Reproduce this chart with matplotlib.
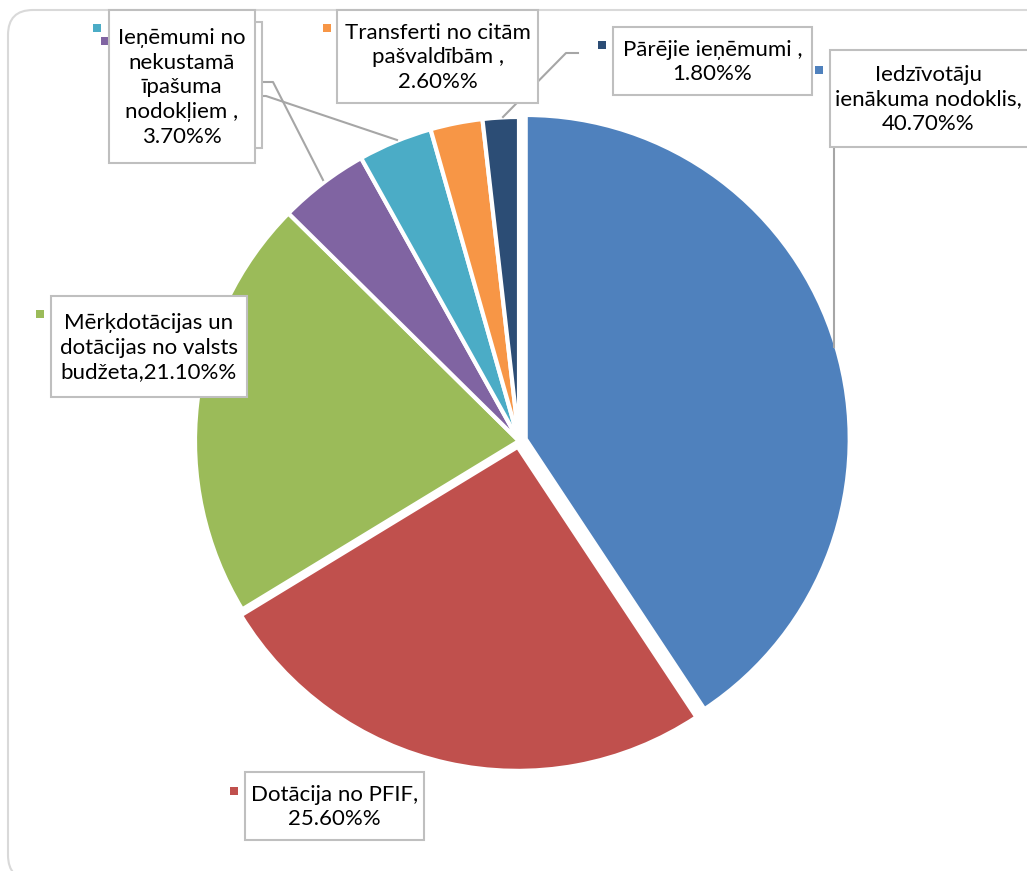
import matplotlib.pyplot as plt
from matplotlib.patches import Rectangle, FancyBboxPatch

# dati
kategorijas = ["Iedzīvotāju ienākuma nodoklis", "Dotācija no PFIF",
               "Mērķdotācijas un dotācijas no valsts budžeta", "Citi nodokļi",
               "Ieņēmumi no nekustamā īpašuma nodokļiem",
               "Transferti no citām pašvaldībām", "Pārējie ieņēmumi"]
vertibas = [40.7, 25.6, 21.1, 4.5, 3.7, 2.6, 1.8]
krasas = ["#4F81BD", "#C0504D", "#9BBB59", "#8064A2", "#4BACC6", "#F79646", "#2C4D75"]
uzraksti = ["Iedzīvotāju\nienākuma nodoklis,\n40.70%%",
            "Dotācija no PFIF,\n25.60%%",
            "Mērķdotācijas un\ndotācijas no valsts\nbudžeta,21.10%%",
            "",
            "Ieņēmumi no\nnekustamā\nīpašuma\nnodokļiem ,\n3.70%%",
            "Transferti no citām\npašvaldībām ,\n2.60%%",
            "Pārējie ieņēmumi ,\n1.80%%"]

W, H = 1027, 871
def py(y):
    return H - y

plt.rcParams['font.family'] = ['Lato', 'DejaVu Sans']

fig = plt.figure(figsize=(W / 100, H / 100), dpi=100)
ax = fig.add_axes([0, 0, 1, 1])

ax.pie(vertibas, colors=krasas, startangle=90, counterclock=False,
       center=(519, py(441)), radius=324, explode=[7, 6, 0, 0, 0, 0, 0],
       wedgeprops=dict(edgecolor="white", linewidth=3), frame=False)
ax.set_xlim(0, W)
ax.set_ylim(0, H)
ax.set_aspect('equal')
ax.axis('off')

# ramis
ax.add_patch(FancyBboxPatch((8 + 25, py(880) + 25), 1100, 870 - 50,
                            boxstyle="round,pad=25", fc="none", ec="#D9D9D9", lw=1.5, zorder=0))

# vilktās līnijas
linijas = [
    [(834, 147), (834, 347)],
    [(578, 53), (566, 53), (503, 117)],
    [(262, 82), (273, 82), (323, 180)],
    [(262, 96), (266, 96), (397, 140)],
]
for l in linijas:
    ax.plot([p[0] for p in l], [py(p[1]) for p in l], color="#A6A6A6", lw=1.5, zorder=3)

# kastes: x0, y0, x1, y1 un marķieris
kastes = [(830, 50, 1032, 147), (245, 772, 424, 840), (51, 296, 247, 397),
          (116, 22, 262, 148), (109, 10, 255, 163), (337, 10, 538, 103), (613, 27, 812, 95)]
markieri = [(819, 70), (234, 791), (40, 314), (105, 41), (97, 28), (327, 28), (602, 45)]

for i, (x0, y0, x1, y1) in enumerate(kastes):
    z = 5 + i
    ax.add_patch(Rectangle((x0, py(y1)), x1 - x0, y1 - y0, fc="white", ec="#BFBFBF",
                           lw=1.5, zorder=z))
    mx, my = markieri[i]
    ax.add_patch(Rectangle((mx - 4, py(my) - 4), 8, 8, fc=krasas[i], ec="none", zorder=z))
    if uzraksti[i]:
        ax.text((x0 + min(x1, W)) / 2, py((y0 + y1) / 2 + 1), uzraksti[i], ha="center", va="center",
                fontsize=16, linespacing=1.3, color="black", zorder=z + 0.5)

fig.savefig("out.png", dpi=100)
